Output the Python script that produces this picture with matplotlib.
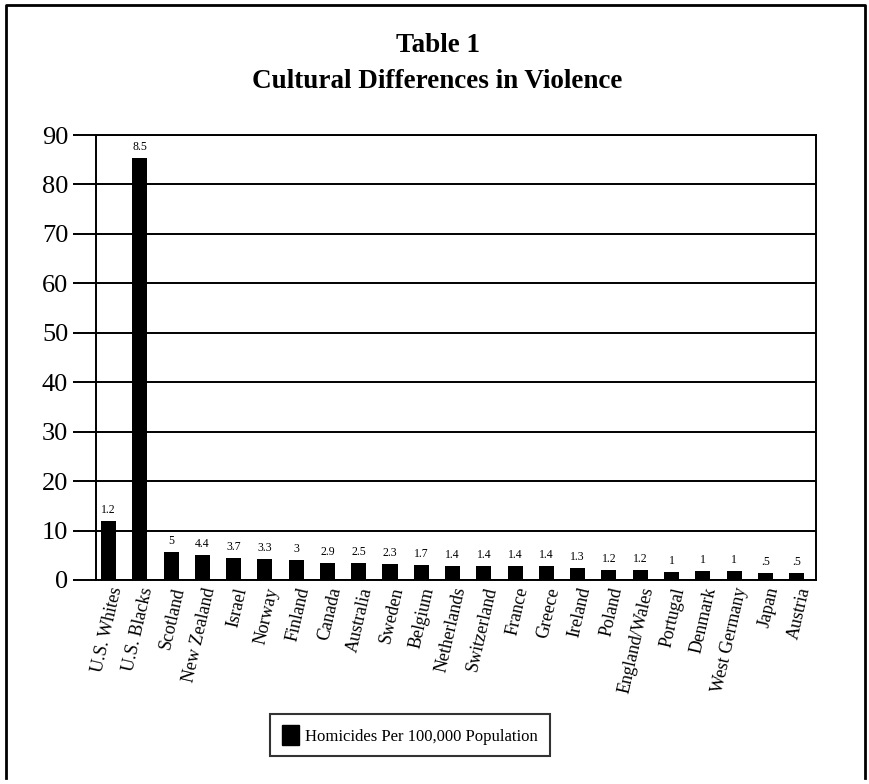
import matplotlib
matplotlib.use("Agg")
import matplotlib.pyplot as plt
from matplotlib.patches import Patch
from matplotlib.lines import Line2D

plt.rcParams['font.family'] = ['Liberation Serif', 'DejaVu Serif']

countries = ["U.S. Whites", "U.S. Blacks", "Scotland", "New Zealand", "Israel",
             "Norway", "Finland", "Canada", "Australia", "Sweden", "Belgium",
             "Netherlands", "Switzerland", "France", "Greece", "Ireland",
             "Poland", "England/Wales", "Portugal", "Denmark", "West Germany",
             "Japan", "Austria"]
bar_heights = [12.0, 85.3, 5.6, 5.0, 4.4, 4.3, 4.0, 3.5, 3.4, 3.2, 3.0,
               2.9, 2.9, 2.9, 2.9, 2.4, 2.1, 2.0, 1.7, 1.75, 1.75, 1.35, 1.35]
value_labels = ["1.2", "8.5", "5", "4.4", "3.7", "3.3", "3", "2.9", "2.5",
                "2.3", "1.7", "1.4", "1.4", "1.4", "1.4", "1.3", "1.2", "1.2",
                "1", "1", "1", ".5", ".5"]
yticks = [0, 10, 20, 30, 40, 50, 60, 70, 80, 90]
title_lines = ["Table 1", "Cultural Differences in Violence"]
legend_label = "Homicides Per 100,000 Population"

W, H = 870, 784
fig = plt.figure(figsize=(W / 100, H / 100), dpi=100)

# outer frame
fig.add_artist(Line2D([6 / W, 6 / W, 865 / W, 865 / W],
                      [1 - 778 / H, 1 - 5 / H, 1 - 5 / H, 1 - 778 / H],
                      transform=fig.transFigure, color='black', lw=2))

fig.text(438 / W, 1 - 46 / H, title_lines[0], ha='center', va='center',
         fontsize=19.5, fontweight='bold')
fig.text(437 / W, 1 - 81 / H, title_lines[1], ha='center', va='center',
         fontsize=19.5, fontweight='bold')

ax = fig.add_axes([96 / W, 1 - 580 / H, (816 - 96) / W, (580 - 135) / H])
x = list(range(len(countries)))
bars = ax.bar(x, bar_heights, width=0.48, color='black', zorder=3)
for xi, h, lab in zip(x, bar_heights, value_labels):
    ax.text(xi, h + 1.0, lab, ha='center', va='bottom', fontsize=8.5)

ax.set_xlim(-0.4, 22.62)
ax.set_ylim(0, 90)
ax.set_yticks(yticks)
ax.set_yticklabels([str(v) for v in yticks], fontsize=19)
ax.yaxis.grid(True, color='black', lw=1.4, zorder=1)
ax.tick_params(axis='y', length=16.5, width=1.4, pad=3.5, direction='out')
ax.set_xticks(x)
ax.set_xticklabels(countries, rotation=77, ha='right', rotation_mode='anchor',
                   fontsize=13)
ax.tick_params(axis='x', length=0, pad=4)
for s in ax.spines.values():
    s.set_linewidth(1.4)

handle = Patch(facecolor='black', edgecolor='black')
leg = fig.legend([handle], [legend_label], loc='center',
                 bbox_to_anchor=(410 / W, 1 - 735 / H), fontsize=12,
                 frameon=True, fancybox=False, handlelength=1.0,
                 handleheight=1.4, handletextpad=0.4, borderpad=0.7)
leg.get_frame().set_edgecolor('black')
leg.get_frame().set_linewidth(1.5)

fig.savefig("out.png", dpi=100, facecolor='white')
